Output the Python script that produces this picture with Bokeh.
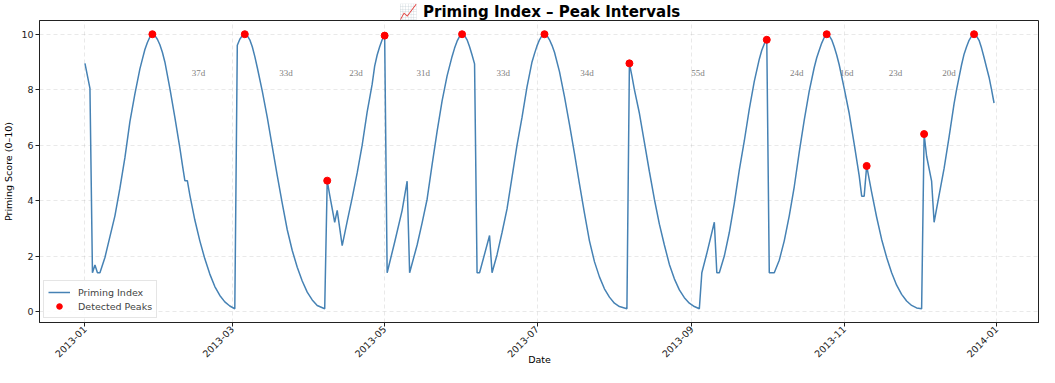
import pandas as pd
from math import pi
from bokeh.plotting import figure
from bokeh.models import ColumnDataSource, Range1d, FixedTicker, DatetimeTickFormatter
from bokeh.embed import file_html
from bokeh.resources import INLINE

# ---------------- data ----------------
start_date = "2013-01-01"

day_offsets = [
    0, 2, 3, 4, 5, 6, 8, 10, 12, 14, 16, 18, 20, 22, 23, 24, 25, 26, 27,
    28, 29, 30, 31, 32, 34, 36, 38, 39, 40, 41, 42, 44, 46, 48, 50, 52, 54, 56, 58, 60,
    61, 62, 63, 64, 65, 66, 67, 68, 69, 71, 73, 75, 77, 79, 81, 83, 85, 87, 89, 91, 93, 96,
    97, 98, 100, 101, 103, 105, 107, 109, 111, 113, 114, 115, 116, 117, 118, 119, 120,
    121, 124, 127, 129, 130, 133, 135, 137, 139, 141, 143, 145, 147, 148, 149, 150, 151,
    152, 153, 154, 155, 156, 157, 158, 162, 163, 165, 167, 169, 171, 173, 175, 177, 179,
    180, 181, 182, 183, 184, 185, 186, 187, 188, 190, 192, 194, 196, 198, 200, 202, 204,
    206, 208, 210, 212, 214, 217,
    218, 219, 220, 222, 224, 226, 228, 230, 232, 234, 236, 238, 240, 242, 244, 246,
    247, 249, 252, 253, 254, 256, 258, 260, 262, 264, 266, 268, 270, 271, 272, 273,
    274, 276, 278, 280, 282, 284, 286, 288, 290, 292, 293, 294, 295, 296, 297,
    298, 299, 300, 301, 302, 304, 306, 308, 310, 311, 312,
    313, 315, 317, 319, 321, 323, 325, 327, 329, 331, 333, 335,
    336, 337, 339, 340, 342, 344, 346, 348, 349, 350, 351, 352, 353, 354, 355, 356,
    357, 358, 359, 360, 361, 362, 363, 364,
]
priming_values = [
    8.95, 8.05, 1.40, 1.68, 1.40, 1.40, 1.95, 2.70, 3.45, 4.45, 5.55, 6.85, 7.85, 8.75, 9.10, 9.45, 9.70, 9.90, 10.0,
    9.95, 9.82, 9.62, 9.35, 9.00, 8.05, 7.00, 5.90, 5.30, 4.72, 4.72, 4.20, 3.30, 2.55, 1.90, 1.35, 0.90, 0.58, 0.35, 0.20, 0.10,
    9.60, 9.82, 9.95, 10.0, 9.95, 9.80, 9.55, 9.20, 8.80, 7.95, 7.00, 5.95, 4.90, 3.90, 2.95, 2.20, 1.60, 1.10, 0.70, 0.42, 0.22, 0.10,
    4.72, 4.20, 3.22, 3.65, 2.38, 3.25, 4.10, 5.00, 6.00, 7.20, 7.70, 8.20, 8.85, 9.25, 9.55, 9.80, 9.95,
    1.40, 2.50, 3.65, 4.70, 1.40, 2.40, 3.20, 4.05, 5.30, 6.50, 7.60, 8.50, 9.20, 9.50, 9.75, 9.92, 10.0,
    9.95, 9.80, 9.55, 9.25, 8.93, 1.40, 1.40, 2.74, 1.40, 2.05, 2.85, 3.70, 4.85, 6.00, 7.00, 8.10, 9.00,
    9.30, 9.58, 9.80, 9.95, 10.0, 9.95, 9.80, 9.60, 9.35, 8.65, 7.75, 6.75, 5.70, 4.60, 3.55, 2.55, 1.80,
    1.25, 0.82, 0.52, 0.30, 0.18, 0.10,
    8.95, 8.50, 8.00, 7.15, 6.10, 5.05, 4.05, 3.15, 2.40, 1.70, 1.18, 0.78, 0.50, 0.30, 0.18, 0.10,
    1.40, 2.10, 3.22, 1.40, 1.40, 2.00, 2.85, 3.90, 5.10, 6.15, 7.30, 8.30, 9.10, 9.42, 9.65, 9.80,
    1.40, 1.40, 1.85, 2.55, 3.45, 4.50, 5.75, 6.90, 7.95, 8.80, 9.15, 9.42, 9.68, 9.88, 10.0,
    9.95, 9.80, 9.55, 9.25, 8.90, 8.05, 7.15, 6.05, 4.90, 4.16, 4.16,
    5.25, 4.30, 3.40, 2.60, 1.95, 1.40, 0.95, 0.62, 0.38, 0.22, 0.13, 0.10,
    6.40, 5.60, 4.70, 3.22, 4.20, 5.16, 6.30, 7.50, 8.00, 8.45, 8.90, 9.28, 9.55, 9.78, 9.93, 10.0,
    9.93, 9.78, 9.50, 9.16, 8.80, 8.45, 8.00, 7.52,
]

peak_days = [27, 64, 97, 120, 151, 184, 218, 273, 297, 313, 336, 356]
peak_values = [10.0, 10.0, 4.72, 9.95, 10.0, 10.0, 8.95, 9.80, 10.0, 5.25, 6.40, 10.0]

tick_dates = ["2013-01-01", "2013-03-01", "2013-05-01", "2013-07-01",
              "2013-09-01", "2013-11-01", "2014-01-01"]
y_ticks = [0, 2, 4, 6, 8, 10]

# ---------------- derived ----------------
t0 = pd.Timestamp(start_date)
dates = t0 + pd.to_timedelta(day_offsets, unit="D")
peak_dates = t0 + pd.to_timedelta(peak_days, unit="D")

intervals = [b - a for a, b in zip(peak_days[:-1], peak_days[1:])]
mid_days = [(a + b) / 2 for a, b in zip(peak_days[:-1], peak_days[1:])]
mid_dates = t0 + pd.to_timedelta(mid_days, unit="D")
interval_labels = [f"{d}d" for d in intervals]


def ms(ts):
    return pd.Timestamp(ts).value / 1e6


FONT = "DejaVu Sans"

span = day_offsets[-1] - day_offsets[0]
pad = span * 0.05
x_lo = ms(t0 + pd.Timedelta(days=day_offsets[0] - pad))
x_hi = ms(t0 + pd.Timedelta(days=day_offsets[-1] + pad))
vmin, vmax = min(priming_values), max(priming_values)
ypad = (vmax - vmin) * 0.05

p = figure(
    width=1039, height=367,
    x_axis_type="datetime",
    x_range=Range1d(x_lo, x_hi),
    y_range=Range1d(vmin - ypad, vmax + ypad),
    output_backend="svg",
    toolbar_location=None,
    title="📈 Priming Index – Peak Intervals",
    min_border_left=0, min_border_right=0, min_border_top=0, min_border_bottom=0,
)

p.background_fill_color = "white"
p.border_fill_color = "white"
p.outline_line_color = "#222222"
p.outline_line_width = 1

p.title.align = "center"
p.title.text_font = FONT
p.title.text_font_size = "15px"
p.title.text_font_style = "bold"
p.title.text_color = "black"
p.title.standoff = 0
p.title.offset = 0

src = ColumnDataSource(dict(x=dates, y=priming_values))
p.line("x", "y", source=src, line_color="#4682B4", line_width=1.5, legend_label="Priming Index")

psrc = ColumnDataSource(dict(x=peak_dates, y=peak_values))
p.scatter("x", "y", source=psrc, marker="circle", size=7, fill_color="red",
          line_color="red", legend_label="Detected Peaks")

lsrc = ColumnDataSource(dict(x=mid_dates, y=[8.6] * len(mid_dates), t=interval_labels))
p.text("x", "y", text="t", source=lsrc, text_align="center", text_baseline="middle",
       text_font_size="9px", text_color="#808080", text_font=FONT)

# axes
xa = p.xaxis[0]
xa.ticker = FixedTicker(ticks=[ms(d) for d in tick_dates])
xa.formatter = DatetimeTickFormatter(days="%Y-%m", months="%Y-%m", years="%Y-%m")
xa.major_label_orientation = pi / 4
xa.axis_label = "Date"
xa.axis_label_standoff = -10
xa.major_label_standoff = 1

ya = p.yaxis[0]
ya.ticker = FixedTicker(ticks=y_ticks)
ya.axis_label = "Priming Score (0–10)"
ya.axis_label_standoff = 4
ya.major_label_standoff = 2

for ax in (xa, ya):
    ax.major_label_text_font = FONT
    ax.major_label_text_font_size = "9.5px"
    ax.major_label_text_color = "#222222"
    ax.axis_label_text_font = FONT
    ax.axis_label_text_font_size = "9.5px"
    ax.axis_label_text_font_style = "normal"
    ax.axis_label_text_color = "black"
    ax.minor_tick_line_color = None
    ax.major_tick_out = 4
    ax.major_tick_in = 0
    ax.axis_line_color = "#222222"
    ax.major_tick_line_color = "#222222"

for g in (p.xgrid[0], p.ygrid[0]):
    g.grid_line_color = "#b0b0b0"
    g.grid_line_alpha = 0.35
    g.grid_line_dash = "4 3"
    g.grid_line_width = 0.8

lg = p.legend[0]
lg.location = "bottom_left"
lg.label_text_font = FONT
lg.label_text_font_size = "9.5px"
lg.margin = 4
lg.padding = 4
lg.spacing = 0
lg.label_height = 14
lg.glyph_height = 14
lg.glyph_width = 22
lg.label_standoff = 8
lg.border_line_color = "#cccccc"
lg.background_fill_alpha = 0.85

open("out.html", "w").write(file_html(p, INLINE))
